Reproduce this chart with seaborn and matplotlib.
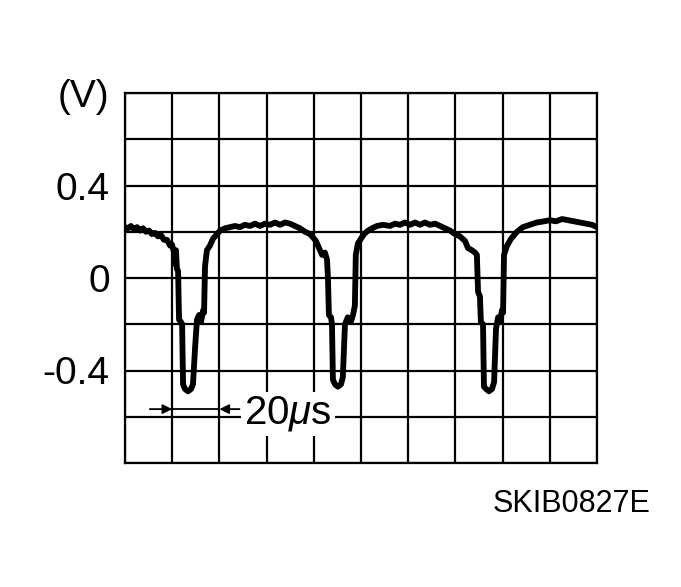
import matplotlib
matplotlib.use("Agg")
import matplotlib.pyplot as plt
import numpy as np
import pandas as pd
import seaborn as sns

# waveform: time (us) and voltage (V)
time_us = [0.0, 1.3, 2.5, 3.8, 5.1, 6.4, 7.6, 8.9, 10.2, 11.4, 12.7, 14.0, 15.3, 16.5, 17.8, 19.1, 19.9,
           20.8, 21.2, 21.6, 22.0, 22.5, 22.9, 23.7, 24.2, 24.6, 25.4, 26.7, 28.0, 28.8, 29.7, 30.5, 31.4,
           32.2, 33.1, 33.5, 33.9, 34.7, 36.0, 37.3, 38.6, 40.3, 42.4, 44.5, 46.6, 48.7, 50.8, 53.0, 55.1,
           57.2, 59.3, 61.4, 63.6, 65.7, 67.8, 69.9, 72.0, 74.1, 76.3, 78.4, 79.7, 80.9, 82.2, 83.5, 84.7,
           85.6, 86.0, 86.4, 87.3, 87.7, 88.1, 89.0, 90.2, 91.5, 92.3, 93.2, 94.4, 95.7, 96.6, 97.4, 97.8,
           98.7, 100.0, 101.3, 103.0, 104.7, 106.8, 109.3, 112.3, 114.4, 116.5, 118.6, 120.8, 122.9, 125.0,
           127.1, 129.2, 131.4, 133.5, 135.6, 137.7, 139.8, 141.9, 144.1, 145.3, 147.0, 148.3, 149.1, 149.6,
           150.4, 150.8, 151.7, 152.1, 153.0, 154.2, 155.5, 156.4, 157.2, 158.1, 158.9, 159.7, 160.2, 160.6,
           161.9, 163.6, 166.1, 168.6, 171.6, 174.5, 177.5, 180.1, 182.6, 185.2, 187.7, 190.3, 192.8, 195.4,
           197.9, 200.0]
volts = [0.22, 0.215, 0.225, 0.21, 0.22, 0.205, 0.215, 0.20, 0.205, 0.19, 0.195, 0.18, 0.185, 0.165, 0.165, 0.14, 0.145,
         0.11, 0.06, 0.12, 0.04, 0.03, -0.18, -0.19, -0.20, -0.46, -0.48, -0.49, -0.48, -0.46, -0.30, -0.18, -0.16,
         -0.19, -0.14, -0.15, 0.05, 0.12, 0.14, 0.17, 0.185, 0.205, 0.215, 0.22, 0.225, 0.22, 0.23, 0.225, 0.235,
         0.225, 0.235, 0.23, 0.24, 0.23, 0.24, 0.235, 0.225, 0.215, 0.20, 0.19, 0.175, 0.16, 0.13, 0.10, 0.11,
         0.08, 0.00, -0.16, -0.17, -0.20, -0.44, -0.46, -0.47, -0.46, -0.43, -0.20, -0.17, -0.19, -0.16, -0.12, 0.10,
         0.15, 0.17, 0.19, 0.205, 0.215, 0.225, 0.23, 0.225, 0.235, 0.23, 0.24, 0.23, 0.24, 0.23,
         0.24, 0.23, 0.235, 0.225, 0.215, 0.205, 0.19, 0.18, 0.16, 0.13, 0.12, 0.11, 0.10, -0.06,
         -0.08, -0.19, -0.20, -0.47, -0.48, -0.49, -0.48, -0.45, -0.22, -0.17, -0.19, -0.14, -0.15, 0.10,
         0.14, 0.17, 0.20, 0.22, 0.23, 0.24, 0.245, 0.25, 0.245, 0.255, 0.25, 0.245, 0.24, 0.235,
         0.23, 0.22]

ytick_vals = [-0.8, -0.6, -0.4, -0.2, 0.0, 0.2, 0.4, 0.6, 0.8]
ytick_text = ["", "", "-0.4", "", "0", "", "0.4", "", "(V)"]
xtick_vals = [0, 20, 40, 60, 80, 100, 120, 140, 160, 180, 200]

sns.set_style("white")
plt.rcParams['font.family'] = ['Liberation Sans', 'DejaVu Sans']
plt.rcParams['text.color'] = 'black'
plt.rcParams['ytick.color'] = 'black'
plt.rcParams['mathtext.fontset'] = 'custom'
plt.rcParams['mathtext.rm'] = 'Liberation Sans'
plt.rcParams['mathtext.it'] = 'Liberation Sans:italic'

df = pd.DataFrame({"t": time_us, "v": volts})

fig = plt.figure(figsize=(6.81, 5.87), dpi=100)
ax = fig.add_axes([125 / 681, 124 / 587, 472 / 681, 370 / 587])

sns.lineplot(data=df, x="t", y="v", color="black", lw=4.2, sort=False, ax=ax, zorder=3)

ax.set_xlim(0, 200)
ax.set_ylim(-0.8, 0.8)
ax.set_xticks(xtick_vals)
ax.set_xticklabels([])
ax.set_yticks(ytick_vals)
ax.set_yticklabels(ytick_text, fontsize=28, color="black")
ax.tick_params(length=0, pad=11)
ax.set_xlabel("")
ax.set_ylabel("")
ax.grid(True, color="black", lw=1.6)
for s in ax.spines.values():
    s.set_color("black")
    s.set_linewidth(1.6)

# 20us span marker
ax.plot([20, 40], [-0.567, -0.567], color="black", lw=1.3, zorder=5)
ax.annotate("", xy=(20, -0.567), xytext=(10.5, -0.567),
            arrowprops=dict(arrowstyle="-|>", color="black", lw=1.3, mutation_scale=14, shrinkA=0, shrinkB=0),
            zorder=5)
ax.annotate("", xy=(40, -0.567), xytext=(48.5, -0.567),
            arrowprops=dict(arrowstyle="-|>", color="black", lw=1.3, mutation_scale=14, shrinkA=0, shrinkB=0),
            zorder=5)
ax.text(50.5, -0.567, r"20$\mu$s", fontsize=29, ha="left", va="center_baseline", zorder=6,
        bbox=dict(facecolor="white", edgecolor="none", pad=2))

fig.text(650 / 681, 1 - 512 / 587, "SKIB0827E", fontsize=22, ha="right", va="baseline")

fig.savefig("out.png", dpi=100)
